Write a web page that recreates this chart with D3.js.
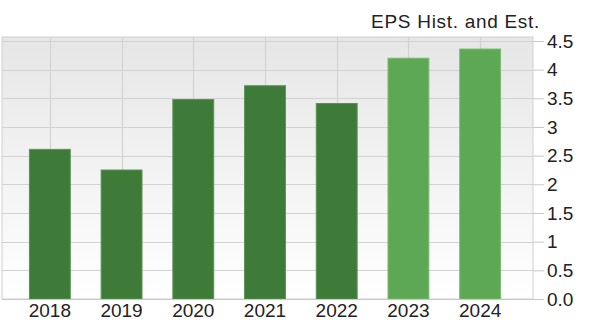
<!DOCTYPE html>
<html>
<head>
<meta charset="utf-8">
<script src="https://cdn.jsdelivr.net/npm/d3@7"></script>
<style>
  body { margin: 0; background: #fff; }
  text { font-family: "Liberation Sans", Arial, sans-serif; }
</style>
</head>
<body>
<script>
"use strict";

const years = ["2018", "2019", "2020", "2021", "2022", "2023", "2024"];
const eps = [2.61, 2.25, 3.48, 3.72, 3.41, 4.2, 4.36];
const estimate = [false, false, false, false, false, true, true];
const yTicks = [0, 0.5, 1, 1.5, 2, 2.5, 3, 3.5, 4, 4.5];
const yTickLabels = ["0.0", "0.5", "1", "1.5", "2", "2.5", "3", "3.5", "4", "4.5"];

const m = {
  width: 595,
  height: 331,
  left: 2,
  right: 533,
  top: 37,
  bottom: 299
};

const svg = d3
  .select("body")
  .append("svg")
  .attr("width", m.width)
  .attr("height", m.height);

const defs = svg.append("defs");
const grad = defs
  .append("linearGradient")
  .attr("id", "bg")
  .attr("x1", 0).attr("y1", 0)
  .attr("x2", 0).attr("y2", 1);
grad.append("stop").attr("offset", "0%").attr("stop-color", "#e6e6e6");
grad.append("stop").attr("offset", "100%").attr("stop-color", "#ffffff");

const x = d3
  .scaleBand()
  .domain(years)
  .range([14, 516])
  .paddingInner(0.43)
  .paddingOuter(0.215);

const y = d3.scaleLinear().domain([0, 4.5]).range([m.bottom, 41]);

// plot background
svg
  .append("rect")
  .attr("x", m.left)
  .attr("y", m.top)
  .attr("width", m.right - m.left)
  .attr("height", m.bottom - m.top)
  .attr("fill", "url(#bg)")
  .attr("stroke", "#d0d0d0")
  .attr("stroke-width", 1);

// horizontal grid
svg
  .append("g")
  .selectAll("line")
  .data(yTicks.slice(1))
  .enter()
  .append("line")
  .attr("x1", m.left)
  .attr("x2", m.right)
  .attr("y1", d => Math.round(y(d)) + 0.5)
  .attr("y2", d => Math.round(y(d)) + 0.5)
  .attr("stroke", "#d2d2d2")
  .attr("stroke-width", 1.2);

// vertical grid at bar centres
svg
  .append("g")
  .selectAll("line")
  .data(years)
  .enter()
  .append("line")
  .attr("x1", d => Math.round(x(d) + x.bandwidth() / 2) + 0.5)
  .attr("x2", d => Math.round(x(d) + x.bandwidth() / 2) + 0.5)
  .attr("y1", m.top)
  .attr("y2", m.bottom)
  .attr("stroke", "#d2d2d2")
  .attr("stroke-width", 1.2);

// bars
svg
  .append("g")
  .selectAll("rect")
  .data(years)
  .enter()
  .append("rect")
  .attr("x", d => x(d))
  .attr("y", (d, i) => y(eps[i]))
  .attr("width", x.bandwidth())
  .attr("height", (d, i) => y(0) - y(eps[i]))
  .attr("fill", (d, i) => (estimate[i] ? "#5ca854" : "#3e7a38"))
  .attr("stroke", (d, i) => (estimate[i] ? "#78bd70" : "#5a9454"))
  .attr("stroke-width", 1);

// bottom axis line
svg
  .append("line")
  .attr("x1", m.left)
  .attr("x2", m.right)
  .attr("y1", m.bottom + 0.5)
  .attr("y2", m.bottom + 0.5)
  .attr("stroke", "#c8c8c8");

// right axis
const yAxis = d3
  .axisRight(y)
  .tickValues(yTicks)
  .tickFormat((d, i) => yTickLabels[i])
  .tickSize(11)
  .tickPadding(3);

const ya = svg
  .append("g")
  .attr("transform", `translate(${m.right},0)`)
  .call(yAxis);
ya.select(".domain").remove();
ya.selectAll(".tick line").attr("stroke", "#c8c8c8");
ya.selectAll(".tick text")
  .attr("fill", "#222")
  .style("font-size", "19px");

// x labels
svg
  .append("g")
  .selectAll("text")
  .data(years)
  .enter()
  .append("text")
  .attr("x", d => x(d) + x.bandwidth() / 2)
  .attr("y", 317)
  .attr("text-anchor", "middle")
  .attr("fill", "#222")
  .style("font-size", "19px")
  .text(d => d);

// title
svg
  .append("text")
  .attr("x", 540)
  .attr("y", 28)
  .attr("text-anchor", "end")
  .attr("fill", "#222")
  .style("font-size", "19px")
  .style("letter-spacing", "0.7px")
  .text("EPS Hist. and Est.");
</script>
</body>
</html>
